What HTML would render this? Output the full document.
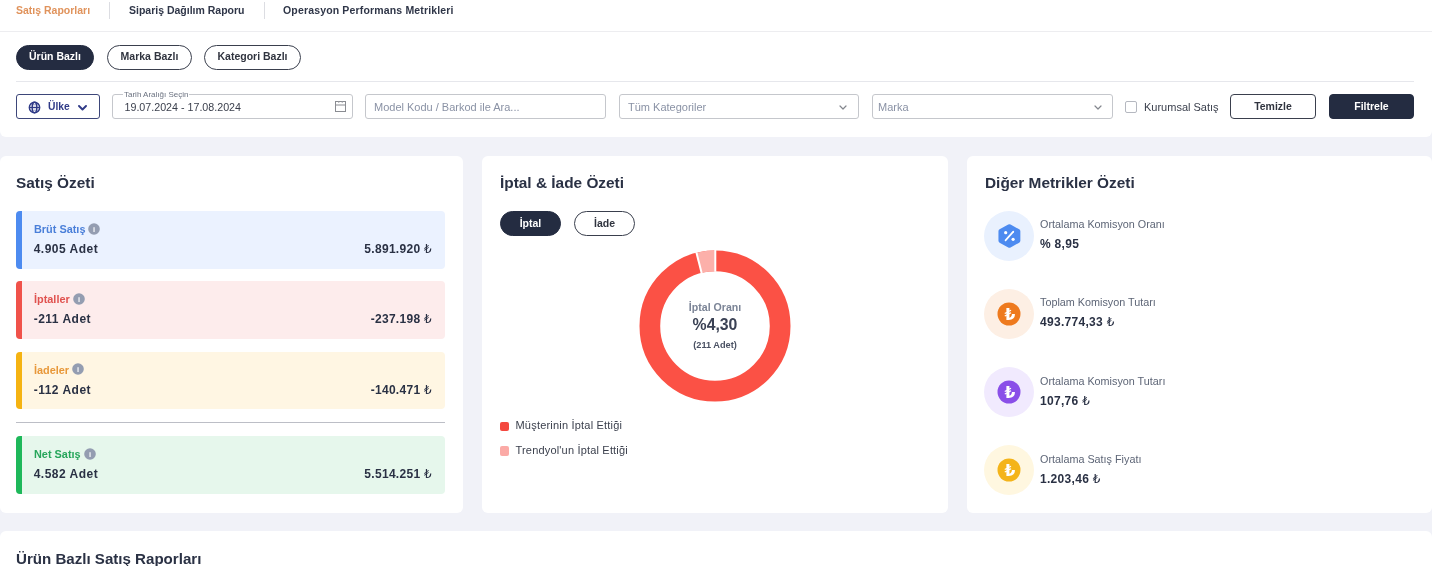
<!DOCTYPE html>
<html lang="tr">
<head>
<meta charset="utf-8">
<title>Satış Raporları</title>
<style>
*{box-sizing:border-box;margin:0;padding:0}
html,body{width:1432px;height:566px;overflow:hidden}
body{position:relative;background:#f1f2f8;font-family:"Liberation Sans","DejaVu Sans",sans-serif;color:#2a3144;font-size:11px}
.tl{font-family:"DejaVu Sans","Liberation Sans",sans-serif;font-weight:normal}
.abs{position:absolute}
.t{position:absolute;white-space:nowrap;line-height:1}
/* top area */
.top{position:absolute;left:0;top:0;width:1432px;height:137px;background:#fff;border-radius:0 0 6px 6px}
.nav{position:absolute;left:0;top:0;width:1432px;height:32px;border-bottom:1px solid #ededf0}
.nav .t{top:5px;font-size:10.5px;font-weight:bold;color:#2f3648}
.nav .sep{position:absolute;top:2px;width:1px;height:17px;background:#dcdde2}
.pill{position:absolute;height:25px;border-radius:12.5px;border:1px solid #3a3f4d;background:#fff;color:#30343f;font-weight:bold;font-size:10.5px;text-align:center;line-height:21px;white-space:nowrap}
.pill.on{background:#242c41;border-color:#242c41;color:#fff}
.hr1{position:absolute;left:16px;top:81px;width:1398px;height:1px;background:#e6e7ec}
.fld{position:absolute;top:94px;height:25px;border:1px solid #c5c7cc;border-radius:3px;background:#fff}
.ph{color:#8a92a5;font-size:11px}
/* cards */
.card{position:absolute;top:156px;height:357px;background:#fff;border-radius:6px}
.card h2{position:absolute;left:18px;top:18.6px;font-size:15.4px;line-height:1;font-weight:bold;color:#2a3144;white-space:nowrap}
.row{position:absolute;left:16px;width:429px;height:57.6px;border-radius:4px;overflow:hidden}
.row i{position:absolute;left:0;top:0;bottom:0;width:6px}
.row .lab{left:18px;top:13px;font-size:10.9px;font-weight:bold}
.row .info{position:absolute;top:11.6px;width:12px;height:12px}
.row .qty{left:17.7px;top:32px;font-size:12px;letter-spacing:.5px;font-weight:bold;color:#2a3144}
.row .amt{right:13px;top:32px;font-size:12px;letter-spacing:.3px;font-weight:bold;color:#2a3144}
.metric .circ{position:absolute;left:17px;width:50px;height:50px;border-radius:50%}
.metric .ml{left:73px;font-size:10.8px;color:#5d6576}
.metric .mv{left:73px;font-size:12px;letter-spacing:.3px;font-weight:bold;color:#2a3144}
.bottom{position:absolute;left:0;top:531px;width:1432px;height:40px;background:#fff;border-radius:6px 6px 0 0}
.bottom h2{position:absolute;left:16px;top:19.5px;font-size:15.1px;line-height:1;font-weight:bold;color:#2a3144;white-space:nowrap}
</style>
</head>
<body>
<div class="top">
  <div class="nav">
    <span class="t" style="left:16px;color:#e0935c">Satış Raporları</span>
    <span class="sep" style="left:109px"></span>
    <span class="t" style="left:129px">Sipariş Dağılım Raporu</span>
    <span class="sep" style="left:263.5px"></span>
    <span class="t" style="left:283px;letter-spacing:.16px">Operasyon Performans Metrikleri</span>
  </div>
  <div class="pill on" style="left:16px;top:45px;width:78px">Ürün Bazlı</div>
  <div class="pill" style="left:107px;top:45px;width:85px">Marka Bazlı</div>
  <div class="pill" style="left:204px;top:45px;width:97px">Kategori Bazlı</div>
  <div class="hr1"></div>

  <div class="fld" style="left:16px;width:84px;border-color:#3d4679;border-radius:3px">
    <svg class="abs" style="left:11px;top:6px" width="13" height="13" viewBox="0 0 13 13" fill="none" stroke="#2f3a87" stroke-width="1.4"><circle cx="6.5" cy="6.5" r="5.2"/><ellipse cx="6.5" cy="6.5" rx="2.3" ry="5.2"/><path d="M1.3 6.5h10.4"/><path d="M2.2 3.8h8.6M2.2 9.2h8.6" stroke-width=".7" opacity=".7"/></svg>
    <span class="t" style="left:31px;top:7px;font-size:10.3px;font-weight:bold;color:#2f3a87">Ülke</span>
    <svg class="abs" style="left:60.8px;top:9.5px" width="9" height="6" viewBox="0 0 9 6" fill="none" stroke="#2f3a87" stroke-width="1.9" stroke-linecap="round" stroke-linejoin="round"><path d="M1 1l3.5 3.5L8 1"/></svg>
  </div>

  <div class="fld" style="left:112px;width:241px">
    <span class="t" style="left:10px;top:-4px;font-size:8px;color:#6b7280;background:#fff;padding:0 1px">Tarih Aralığı Seçin</span>
    <span class="t" style="left:11.5px;top:6.5px;font-size:10.7px;color:#3a3f4c">19.07.2024 - 17.08.2024</span>
    <svg class="abs" style="left:222px;top:6px" width="11" height="11" viewBox="0 0 11 11" fill="none" stroke="#8a8c92" stroke-width="1"><rect x="0.5" y="0.5" width="10" height="10"/><path d="M0.5 4h10"/><path d="M3 1.2h1.4M6.6 1.2h1.4" stroke="#a5a7ad"/></svg>
  </div>

  <div class="fld" style="left:365px;width:241px">
    <span class="t ph" style="left:8px;top:6.5px">Model Kodu / Barkod ile Ara...</span>
  </div>

  <div class="fld" style="left:619px;width:240px">
    <span class="t ph" style="left:8px;top:6.5px">Tüm Kategoriler</span>
    <svg class="abs" style="left:219.3px;top:9.5px" width="8" height="5" viewBox="0 0 8 5" fill="none" stroke="#83868d" stroke-width="1.2" stroke-linecap="round" stroke-linejoin="round"><path d="M1 1l3 3 3-3"/></svg>
  </div>

  <div class="fld" style="left:872px;width:241px">
    <span class="t ph" style="left:5px;top:6.5px">Marka</span>
    <svg class="abs" style="left:220.5px;top:9.5px" width="8" height="5" viewBox="0 0 8 5" fill="none" stroke="#83868d" stroke-width="1.2" stroke-linecap="round" stroke-linejoin="round"><path d="M1 1l3 3 3-3"/></svg>
  </div>

  <span class="abs" style="left:1125px;top:101px;width:12px;height:12px;border:1px solid #b5b8c0;border-radius:2px;background:#fff"></span>
  <span class="t" style="left:1144px;top:101.5px;font-size:11px;color:#3a3f4c">Kurumsal Satış</span>
  <div class="fld" style="left:1230px;width:86px;border-color:#3a3f4d;border-radius:4px;text-align:center;line-height:23px;font-weight:bold;font-size:10.5px;color:#30343f">Temizle</div>
  <div class="fld" style="left:1329px;width:85px;border-color:#242c41;background:#242c41;border-radius:4px;text-align:center;line-height:23px;font-weight:bold;font-size:10.5px;color:#fff">Filtrele</div>
</div>

<!-- CARD 1 -->
<div class="card" style="left:0;width:463px">
  <h2 style="left:16px">Satış Özeti</h2>
  <div class="row" style="top:55px;background:#ebf2ff"><i style="background:#4d8bf0"></i>
    <span class="t lab" style="color:#4a7fd9">Brüt Satış</span>
    <svg class="info" style="left:72px" viewBox="0 0 12 12"><circle cx="6" cy="6" r="5.8" fill="#949db1"/><text x="6" y="8.8" font-size="7.5" font-weight="bold" fill="#fff" text-anchor="middle" font-family="Liberation Sans, sans-serif">i</text></svg>
    <span class="t qty">4.905 Adet</span>
    <span class="t amt">5.891.920 <span class="tl">₺</span></span>
  </div>
  <div class="row" style="top:125.4px;background:#fdecec"><i style="background:#f0524a"></i>
    <span class="t lab" style="color:#e0524f">İptaller</span>
    <svg class="info" style="left:57px" viewBox="0 0 12 12"><circle cx="6" cy="6" r="5.8" fill="#949db1"/><text x="6" y="8.8" font-size="7.5" font-weight="bold" fill="#fff" text-anchor="middle" font-family="Liberation Sans, sans-serif">i</text></svg>
    <span class="t qty">-211 Adet</span>
    <span class="t amt">-237.198 <span class="tl">₺</span></span>
  </div>
  <div class="row" style="top:195.8px;background:#fff6e3"><i style="background:#f5b312"></i>
    <span class="t lab" style="color:#e8983a">İadeler</span>
    <svg class="info" style="left:56px" viewBox="0 0 12 12"><circle cx="6" cy="6" r="5.8" fill="#949db1"/><text x="6" y="8.8" font-size="7.5" font-weight="bold" fill="#fff" text-anchor="middle" font-family="Liberation Sans, sans-serif">i</text></svg>
    <span class="t qty">-112 Adet</span>
    <span class="t amt">-140.471 <span class="tl">₺</span></span>
  </div>
  <div class="abs" style="left:16px;top:266px;width:429px;height:1px;background:#bcbec6"></div>
  <div class="row" style="top:280px;background:#e6f7ec"><i style="background:#1eb85a"></i>
    <span class="t lab" style="color:#26a65b">Net Satış</span>
    <svg class="info" style="left:68px" viewBox="0 0 12 12"><circle cx="6" cy="6" r="5.8" fill="#949db1"/><text x="6" y="8.8" font-size="7.5" font-weight="bold" fill="#fff" text-anchor="middle" font-family="Liberation Sans, sans-serif">i</text></svg>
    <span class="t qty">4.582 Adet</span>
    <span class="t amt">5.514.251 <span class="tl">₺</span></span>
  </div>
</div>

<!-- CARD 2 -->
<div class="card" style="left:482px;width:466px">
  <h2>İptal &amp; İade Özeti</h2>
  <div class="pill on" style="left:18px;top:55px;width:61px;line-height:22px">İptal</div>
  <div class="pill" style="left:92px;top:55px;width:61px;line-height:22px">İade</div>
  <svg class="abs" style="left:154.7px;top:91.5px" width="156" height="156" viewBox="-78 -78 156 156">
    <circle r="65.15" fill="none" stroke="#fb5145" stroke-width="20.7"/>
    <path d="M0 -65.15 A65.15 65.15 0 0 0 -15.98 -63.16" fill="none" stroke="#fcb0aa" stroke-width="20.7"/>
    <path d="M0.3 -54.30V-76.00" stroke="#fff" stroke-width="2"/>
    <path d="M-13.32 -52.64L-18.64 -73.68" stroke="#fff" stroke-width="2"/>
    <text y="-15.5" text-anchor="middle" font-size="10.6" font-weight="bold" fill="#7b8496">İptal Oranı</text>
    <text y="4.1" text-anchor="middle" font-size="15.8" font-weight="bold" fill="#3a4154">%4,30</text>
    <text y="21.6" text-anchor="middle" font-size="9.2" font-weight="bold" fill="#4a5163">(211 Adet)</text>
  </svg>
  <span class="abs" style="left:17.6px;top:265.5px;width:9.6px;height:9.6px;border-radius:2px;background:#f4483f"></span>
  <span class="t" style="left:33.5px;top:264px;font-size:11px;letter-spacing:.2px;color:#3a3f4c">Müşterinin İptal Ettiği</span>
  <span class="abs" style="left:17.6px;top:290px;width:9.6px;height:9.6px;border-radius:2px;background:#fbaaa6"></span>
  <span class="t" style="left:33.5px;top:289px;font-size:11px;letter-spacing:.18px;color:#3a3f4c">Trendyol'un İptal Ettiği</span>
</div>

<!-- CARD 3 -->
<div class="card metric" style="left:967px;width:465px">
  <h2>Diğer Metrikler Özeti</h2>
  <div class="circ" style="top:55px;background:#e9f1fe">
    <svg class="abs" style="left:13px;top:13px" width="24" height="24" viewBox="-12 -12 24 24"><g transform="translate(.4 0) scale(1.05 1)"><path d="M0 -9.5L8.23 -4.75V4.75L0 9.5L-8.23 4.75V-4.75Z" fill="#4d8bf0" stroke="#4d8bf0" stroke-width="4.4" stroke-linejoin="round"/></g><path d="M-3.5 4.4L4.3 -4.4" stroke="#fff" stroke-width="1.7" stroke-linecap="round"/><circle cx="-3.3" cy="-3.3" r="1.6" fill="#fff"/><circle cx="4.1" cy="3.3" r="1.6" fill="#fff"/></svg>
  </div>
  <span class="t ml" style="top:63px">Ortalama Komisyon Oranı</span>
  <span class="t mv" style="top:82px">% 8,95</span>

  <div class="circ" style="top:133px;background:#fdefe4">
    <svg class="abs" style="left:13px;top:13px" width="24" height="24" viewBox="0 0 24 24"><circle cx="12" cy="12" r="11.5" fill="#ee7a1e"/><text x="12.8" y="17.6" font-size="15.5" font-weight="bold" fill="#fff" text-anchor="middle" font-family="DejaVu Sans, sans-serif">₺</text></svg>
  </div>
  <span class="t ml" style="top:141px">Toplam Komisyon Tutarı</span>
  <span class="t mv" style="top:160px">493.774,33 <span class="tl">₺</span></span>

  <div class="circ" style="top:210.5px;background:#f1eafe">
    <svg class="abs" style="left:13px;top:13px" width="24" height="24" viewBox="0 0 24 24"><circle cx="12" cy="12" r="11.5" fill="#8a4fe8"/><text x="12.8" y="17.6" font-size="15.5" font-weight="bold" fill="#fff" text-anchor="middle" font-family="DejaVu Sans, sans-serif">₺</text></svg>
  </div>
  <span class="t ml" style="top:220px">Ortalama Komisyon Tutarı</span>
  <span class="t mv" style="top:239px">107,76 <span class="tl">₺</span></span>

  <div class="circ" style="top:289px;background:#fff7e0">
    <svg class="abs" style="left:13px;top:13px" width="24" height="24" viewBox="0 0 24 24"><circle cx="12" cy="12" r="11.5" fill="#f4b41a"/><text x="12.8" y="17.6" font-size="15.5" font-weight="bold" fill="#fff" text-anchor="middle" font-family="DejaVu Sans, sans-serif">₺</text></svg>
  </div>
  <span class="t ml" style="top:298px">Ortalama Satış Fiyatı</span>
  <span class="t mv" style="top:317px">1.203,46 <span class="tl">₺</span></span>
</div>

<div class="bottom"><h2>Ürün Bazlı Satış Raporları</h2></div>
</body>
</html>
